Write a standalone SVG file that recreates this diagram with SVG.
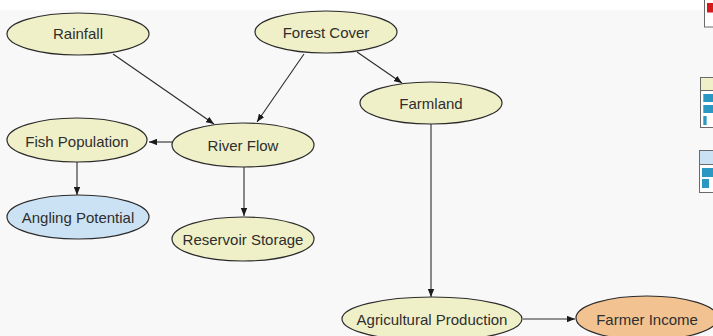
<svg xmlns="http://www.w3.org/2000/svg" width="713" height="336" viewBox="0 0 713 336">
<defs>
<style>
.n ellipse{stroke:#2b2b2b;stroke-width:1.2}
.y{fill:#f0f0c8}
.b{fill:#cbe2f5}
.o{fill:#f2c391}
.n text{font-family:"Liberation Sans",Arial,sans-serif;font-size:15px;fill:#2e2e2e;text-anchor:middle;dominant-baseline:central}
.e line{stroke:#2b2b2b;stroke-width:1.1;marker-end:url(#ah)}
.bar{fill:#2a98c2}
.pan{fill:#ffffff;stroke:#6a6a6a;stroke-width:1}
</style>
<marker id="ah" viewBox="0 0 10 8" refX="10" refY="4" markerWidth="8" markerHeight="6.4" markerUnits="userSpaceOnUse" orient="auto">
<path d="M0,0 L10,4 L0,8 Z" fill="#1a1a1a"/>
</marker>
</defs>
<rect x="0" y="0" width="713" height="336" fill="#ffffff"/>
<rect x="0" y="10" width="713" height="326" fill="#f8f8f8"/>
<g id="side-panels">
<rect class="pan" x="704.5" y="-1" width="10" height="28"/>
<rect x="707" y="3" width="7" height="9.5" fill="#d7191c"/>
<rect class="pan" x="700.5" y="77.5" width="14" height="50"/>
<rect x="701" y="78" width="13" height="12" fill="#f0f0c8"/>
<line x1="701" y1="90.5" x2="714" y2="90.5" stroke="#6a6a6a"/>
<rect class="bar" x="703.3" y="94" width="11" height="8"/>
<rect class="bar" x="703.3" y="105" width="11" height="8"/>
<rect class="bar" x="703.3" y="116" width="3.3" height="9"/>
<rect class="pan" x="699.5" y="150.5" width="15" height="42"/>
<rect x="700" y="151" width="14" height="13" fill="#cbe2f5"/>
<line x1="700" y1="164.5" x2="714" y2="164.5" stroke="#6a6a6a"/>
<rect class="bar" x="702" y="168" width="12" height="9"/>
<rect class="bar" x="702" y="179" width="7" height="9"/>
</g>
<g id="connectors" class="e">
<line x1="113" y1="54" x2="214" y2="124"/>
<line x1="304" y1="54" x2="257" y2="122"/>
<line x1="357" y1="52" x2="402" y2="83"/>
<line x1="173" y1="142" x2="149" y2="142"/>
<line x1="77" y1="162" x2="77" y2="195"/>
<line x1="244" y1="167" x2="244" y2="216"/>
<line x1="431" y1="124" x2="431" y2="297"/>
<line x1="523" y1="319" x2="575" y2="319"/>
</g>
<g id="rainfall" class="n"><ellipse class="y" cx="78" cy="34" rx="71" ry="21"/><text x="78" y="33">Rainfall</text></g>
<g id="forest-cover" class="n"><ellipse class="y" cx="326" cy="32" rx="71" ry="21"/><text x="326" y="32">Forest Cover</text></g>
<g id="farmland" class="n"><ellipse class="y" cx="431" cy="103" rx="71" ry="21"/><text x="431" y="103">Farmland</text></g>
<g id="fish-population" class="n"><ellipse class="y" cx="77" cy="140" rx="70" ry="22"/><text x="77" y="141">Fish Population</text></g>
<g id="river-flow" class="n"><ellipse class="y" cx="243" cy="145" rx="71" ry="22"/><text x="243" y="145">River Flow</text></g>
<g id="angling-potential" class="n"><ellipse class="b" cx="78" cy="217" rx="71" ry="22"/><text x="78" y="217">Angling Potential</text></g>
<g id="reservoir-storage" class="n"><ellipse class="y" cx="243" cy="239" rx="71" ry="22"/><text x="243" y="239">Reservoir Storage</text></g>
<g id="agricultural-production" class="n"><ellipse class="y" cx="432" cy="319" rx="90" ry="22"/><text x="432" y="319">Agricultural Production</text></g>
<g id="farmer-income" class="n"><ellipse class="o" cx="647" cy="318" rx="71" ry="22"/><text x="647" y="319">Farmer Income</text></g>
</svg>
